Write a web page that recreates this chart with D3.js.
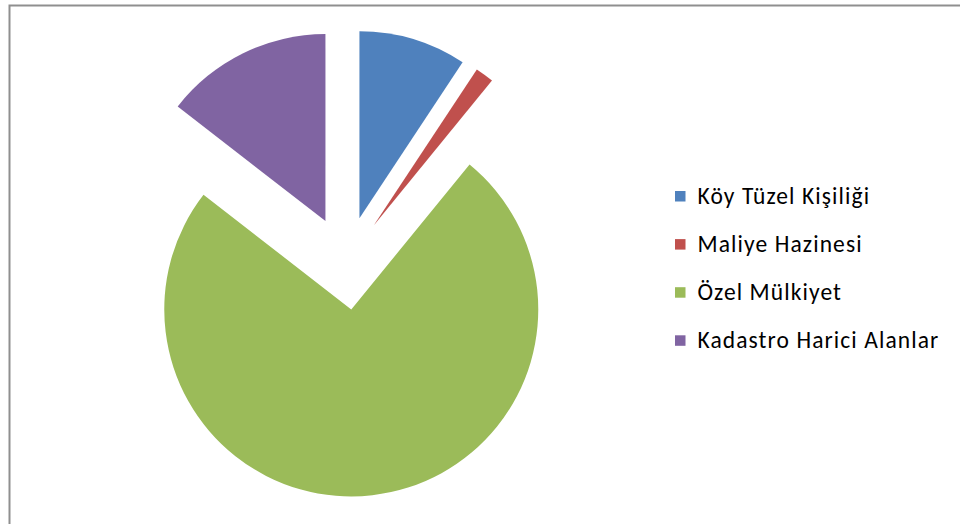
<!DOCTYPE html>
<html>
<head>
<meta charset="utf-8">
<script src="https://cdn.jsdelivr.net/npm/d3@7"></script>
<style>
  html, body { margin: 0; padding: 0; background: #fff; }
  svg { display: block; }
</style>
</head>
<body>
<svg id="chart" width="960" height="524"></svg>
<script>
// Land ownership shares (%)
const categories = ["Köy Tüzel Kişiliği", "Maliye Hazinesi", "Özel Mülkiyet", "Kadastro Harici Alanlar"];
const values = [9.3, 1.6, 74.6, 14.5];
const colors = ["#4F81BD", "#C0504D", "#9BBB59", "#8064A2"];

const svg = d3.select("#chart");

// Outer chart frame (runs past the right and bottom edges)
svg.append("rect")
  .attr("x", 9.5).attr("y", 5.5)
  .attr("width", 1000).attr("height", 600)
  .attr("fill", "none")
  .attr("stroke", "#8f8f8f")
  .attr("stroke-width", 2);

const cx = 346, cy = 263, radius = 187, explode = 46.7;

const pie = d3.pie().sort(null).value(d => d)(values);
const arc = d3.arc().innerRadius(0).outerRadius(radius);

const g = svg.append("g").attr("transform", `translate(${cx},${cy})`);
g.selectAll("path")
  .data(pie)
  .join("path")
  .attr("d", arc)
  .attr("fill", (d, i) => colors[i])
  .attr("transform", d => {
    const a = (d.startAngle + d.endAngle) / 2;
    return `translate(${explode * Math.sin(a)},${-explode * Math.cos(a)})`;
  });

// Legend
const legend = svg.append("g").attr("transform", "translate(675,0)");
const rows = legend.selectAll("g")
  .data(categories)
  .join("g")
  .attr("transform", (d, i) => `translate(0,${203.5 + i * 48.1})`);
rows.append("rect")
  .attr("x", 0).attr("y", -12.5)
  .attr("width", 10.5).attr("height", 10.5)
  .attr("fill", (d, i) => colors[i]);
rows.append("text")
  .attr("x", 22.5).attr("y", 0)
  .attr("font-family", "Carlito, Lato, 'Open Sans', sans-serif")
  .attr("font-size", 23.5)
  .attr("letter-spacing", "1.1px")
  .attr("fill", "#000")
  .text(d => d);
</script>
</body>
</html>
